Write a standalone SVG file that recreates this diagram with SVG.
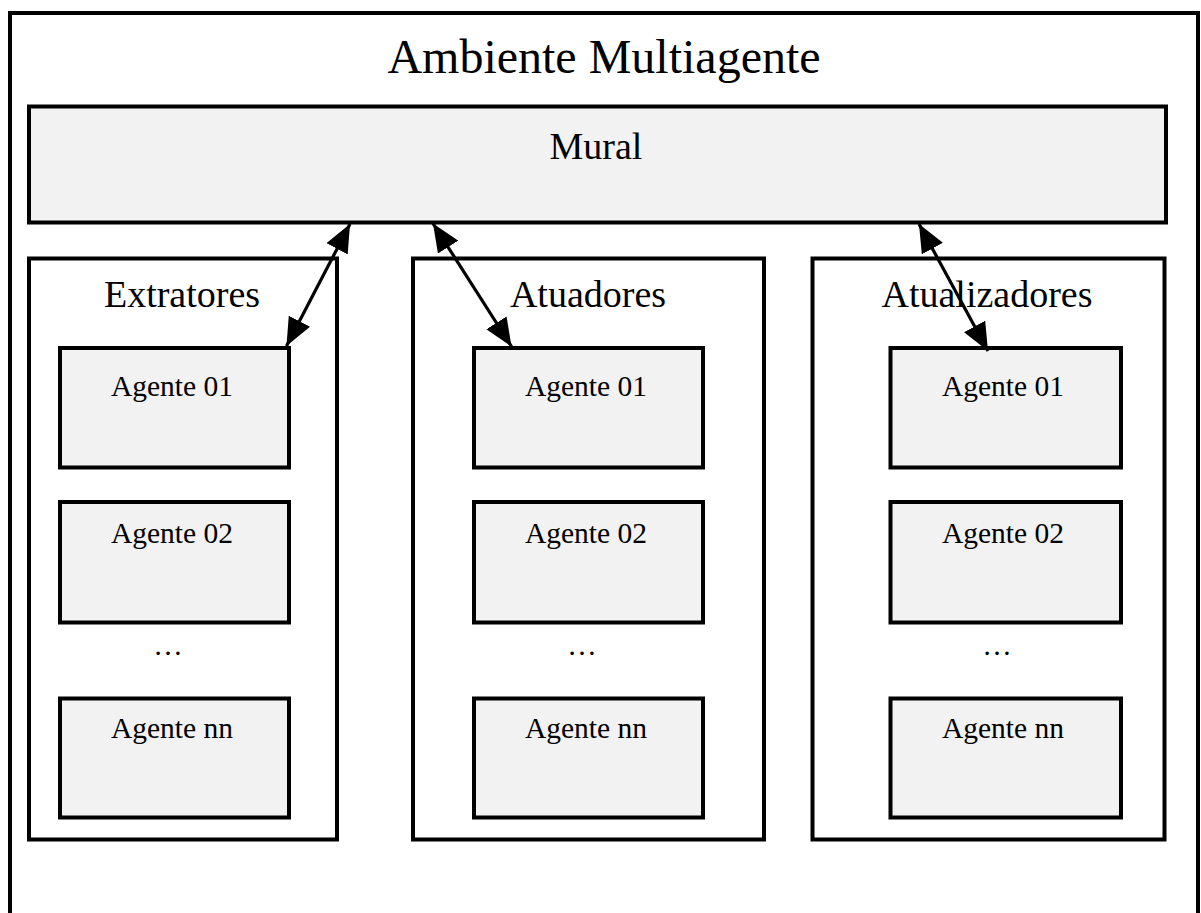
<svg xmlns="http://www.w3.org/2000/svg" width="1201" height="913" viewBox="0 0 1201 913">
<style>
  text { font-family: "Liberation Serif", "Times New Roman", serif; fill: #000; text-anchor: middle; }
  .frame { fill: #fff; stroke: #000; stroke-width: 4; }
  .box { fill: #f2f2f2; stroke: #000; stroke-width: 4; }
  .cont { fill: #fff; stroke: #000; stroke-width: 4; }
  .title { font-size: 48px; }
  .h { font-size: 38px; }
  .ag { font-size: 29.5px; }
  .conn line { stroke: #000; stroke-width: 3.2; marker-start: url(#ah); marker-end: url(#ah); }
</style>
<defs>
  <marker id="ah" viewBox="0 0 28 24" refX="28" refY="12" markerWidth="28" markerHeight="24" markerUnits="userSpaceOnUse" orient="auto-start-reverse">
    <path d="M0,0 L28,12 L0,24 Z" fill="#000"/>
  </marker>
</defs>
<rect width="1201" height="913" fill="#fff"/>
<g id="ambiente">
  <rect class="frame" x="10" y="13" width="1188" height="920"/>
  <text class="title" x="604" y="73">Ambiente Multiagente</text>
</g>
<g id="mural">
  <rect class="box" x="29" y="106.5" width="1137" height="116"/>
  <text class="h" x="596" y="159">Mural</text>
</g>
<g id="extratores">
  <rect class="cont" x="29" y="258.5" width="308" height="581"/>
  <text class="h" x="182" y="307">Extratores</text>
  <g id="ext-a01"><rect class="box" x="60" y="348" width="229" height="119.5"/><text class="ag" x="172" y="396">Agente 01</text></g>
  <g id="ext-a02"><rect class="box" x="60" y="502" width="229" height="120.5"/><text class="ag" x="172" y="543">Agente 02</text></g>
  <text class="ag" x="168" y="655">…</text>
  <g id="ext-ann"><rect class="box" x="60" y="698.5" width="229" height="119"/><text class="ag" x="172" y="738">Agente nn</text></g>
</g>
<g id="atuadores">
  <rect class="cont" x="413" y="258.5" width="351" height="581"/>
  <text class="h" x="588" y="307">Atuadores</text>
  <g id="atu-a01"><rect class="box" x="474" y="348" width="229" height="119.5"/><text class="ag" x="586" y="396">Agente 01</text></g>
  <g id="atu-a02"><rect class="box" x="474" y="502" width="229" height="120.5"/><text class="ag" x="586" y="543">Agente 02</text></g>
  <text class="ag" x="582" y="655">…</text>
  <g id="atu-ann"><rect class="box" x="474" y="698.5" width="229" height="119"/><text class="ag" x="586" y="738">Agente nn</text></g>
</g>
<g id="atualizadores">
  <rect class="cont" x="812.5" y="258.5" width="352" height="581"/>
  <text class="h" x="987" y="307">Atualizadores</text>
  <g id="atl-a01"><rect class="box" x="890.5" y="348" width="230.5" height="119.5"/><text class="ag" x="1003" y="396">Agente 01</text></g>
  <g id="atl-a02"><rect class="box" x="890.5" y="502" width="230.5" height="120.5"/><text class="ag" x="1003" y="543">Agente 02</text></g>
  <text class="ag" x="997" y="655">…</text>
  <g id="atl-ann"><rect class="box" x="890.5" y="698.5" width="230.5" height="119"/><text class="ag" x="1003" y="738">Agente nn</text></g>
</g>
<g id="connectors" class="conn">
  <line x1="350" y1="224" x2="286.5" y2="346"/>
  <line x1="433" y1="223.5" x2="511.5" y2="346.5"/>
  <line x1="919" y1="224" x2="988" y2="351"/>
</g>
</svg>
